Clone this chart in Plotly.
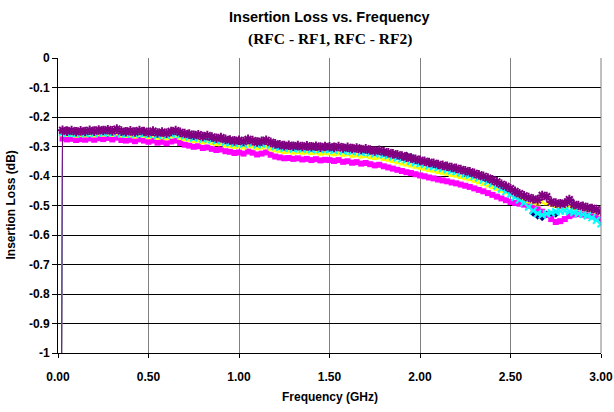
import plotly.graph_objects as go

# Frequency sweep (GHz): first sweep point then 0.025 GHz steps to 3.00
FREQ_FIRST = 0.01
FREQ = [FREQ_FIRST] + [round(0.025 * k, 3) for k in range(1, 121)]

# First sweep point lies far below the chart (off-scale)
FIRST_VAL = -2.5

PURPLE = [FIRST_VAL,
    -0.245, -0.248, -0.246, -0.250, -0.247, -0.249, -0.245, -0.248, -0.244, -0.246,
    -0.243, -0.247, -0.241, -0.248, -0.250, -0.247, -0.251, -0.246, -0.249, -0.252,
    -0.248, -0.254, -0.251, -0.255, -0.249, -0.246, -0.252, -0.256, -0.258, -0.262,
    -0.260, -0.266, -0.263, -0.268, -0.272, -0.270, -0.276, -0.278, -0.281, -0.279,
    -0.283, -0.276, -0.280, -0.285, -0.282, -0.279, -0.286, -0.291, -0.294, -0.297,
    -0.296, -0.299, -0.297, -0.300, -0.298, -0.301, -0.299, -0.302, -0.300, -0.301,
    -0.303, -0.300, -0.305, -0.303, -0.307, -0.305, -0.310, -0.308, -0.312, -0.315,
    -0.313, -0.318, -0.321, -0.325, -0.328, -0.332, -0.336, -0.339, -0.343, -0.347,
    -0.350, -0.354, -0.357, -0.361, -0.364, -0.367, -0.371, -0.374, -0.378, -0.382,
    -0.386, -0.391, -0.396, -0.401, -0.407, -0.413, -0.420, -0.428, -0.435, -0.443,
    -0.452, -0.460, -0.467, -0.473, -0.478, -0.481, -0.466, -0.470, -0.488, -0.492,
    -0.494, -0.492, -0.480, -0.497, -0.500, -0.503, -0.507, -0.510, -0.514, -0.520]

CYAN = [FIRST_VAL,
    -0.252, -0.255, -0.254, -0.257, -0.255, -0.256, -0.253, -0.256, -0.252, -0.254,
    -0.251, -0.255, -0.250, -0.256, -0.258, -0.255, -0.259, -0.254, -0.257, -0.260,
    -0.257, -0.262, -0.259, -0.263, -0.258, -0.255, -0.261, -0.264, -0.267, -0.271,
    -0.269, -0.275, -0.272, -0.277, -0.281, -0.279, -0.285, -0.287, -0.290, -0.288,
    -0.292, -0.286, -0.289, -0.294, -0.291, -0.289, -0.295, -0.300, -0.303, -0.306,
    -0.305, -0.308, -0.306, -0.309, -0.307, -0.310, -0.308, -0.311, -0.309, -0.310,
    -0.313, -0.310, -0.315, -0.313, -0.317, -0.315, -0.320, -0.318, -0.322, -0.325,
    -0.323, -0.328, -0.331, -0.335, -0.338, -0.342, -0.346, -0.350, -0.354, -0.358,
    -0.361, -0.365, -0.368, -0.372, -0.375, -0.378, -0.382, -0.385, -0.389, -0.393,
    -0.397, -0.402, -0.407, -0.413, -0.419, -0.426, -0.434, -0.443, -0.452, -0.462,
    -0.472, -0.481, -0.491, -0.505, -0.518, -0.527, -0.532, -0.528, -0.525, -0.521,
    -0.519, -0.518, -0.520, -0.524, -0.527, -0.530, -0.535, -0.541, -0.550, -0.562]

YELLOW = [FIRST_VAL,
    -0.261, -0.263, -0.262, -0.265, -0.263, -0.264, -0.261, -0.264, -0.260, -0.262,
    -0.259, -0.263, -0.258, -0.264, -0.266, -0.264, -0.268, -0.263, -0.266, -0.270,
    -0.266, -0.272, -0.270, -0.274, -0.268, -0.265, -0.272, -0.276, -0.279, -0.283,
    -0.281, -0.287, -0.285, -0.290, -0.294, -0.292, -0.298, -0.300, -0.303, -0.301,
    -0.305, -0.299, -0.302, -0.308, -0.305, -0.302, -0.309, -0.314, -0.317, -0.320,
    -0.319, -0.322, -0.320, -0.323, -0.321, -0.324, -0.322, -0.326, -0.324, -0.325,
    -0.328, -0.325, -0.330, -0.328, -0.333, -0.331, -0.336, -0.334, -0.338, -0.341,
    -0.339, -0.344, -0.347, -0.351, -0.355, -0.359, -0.363, -0.366, -0.370, -0.374,
    -0.377, -0.381, -0.384, -0.388, -0.391, -0.394, -0.398, -0.401, -0.405, -0.409,
    -0.413, -0.418, -0.423, -0.428, -0.434, -0.440, -0.446, -0.452, -0.458, -0.463,
    -0.469, -0.475, -0.481, -0.488, -0.492, -0.495, -0.490, -0.494, -0.499, -0.503,
    -0.506, -0.508, -0.505, -0.510, -0.512, -0.514, -0.517, -0.520, -0.524, -0.530]

MAGENTA = [FIRST_VAL,
    -0.273, -0.276, -0.274, -0.278, -0.275, -0.277, -0.273, -0.277, -0.272, -0.275,
    -0.271, -0.276, -0.270, -0.278, -0.280, -0.277, -0.282, -0.276, -0.280, -0.284,
    -0.280, -0.287, -0.284, -0.289, -0.283, -0.280, -0.288, -0.294, -0.297, -0.301,
    -0.299, -0.305, -0.303, -0.308, -0.312, -0.310, -0.316, -0.318, -0.322, -0.320,
    -0.324, -0.317, -0.321, -0.327, -0.324, -0.320, -0.328, -0.334, -0.337, -0.340,
    -0.339, -0.342, -0.340, -0.344, -0.342, -0.346, -0.343, -0.347, -0.345, -0.346,
    -0.349, -0.346, -0.352, -0.350, -0.355, -0.353, -0.358, -0.356, -0.360, -0.364,
    -0.362, -0.367, -0.371, -0.375, -0.379, -0.383, -0.387, -0.390, -0.394, -0.398,
    -0.401, -0.405, -0.408, -0.412, -0.415, -0.418, -0.422, -0.425, -0.429, -0.433,
    -0.437, -0.442, -0.447, -0.452, -0.458, -0.464, -0.470, -0.476, -0.482, -0.488,
    -0.491, -0.494, -0.497, -0.501, -0.506, -0.513, -0.521, -0.531, -0.546, -0.556,
    -0.553, -0.546, -0.536, -0.531, -0.529, -0.531, -0.534, -0.537, -0.541, -0.546]

NAVY = [FIRST_VAL,
    -0.247, -0.250, -0.248, -0.252, -0.249, -0.251, -0.247, -0.250, -0.246, -0.248,
    -0.245, -0.249, -0.243, -0.250, -0.252, -0.249, -0.253, -0.248, -0.251, -0.254,
    -0.250, -0.256, -0.253, -0.257, -0.251, -0.248, -0.254, -0.258, -0.260, -0.264,
    -0.262, -0.268, -0.265, -0.270, -0.274, -0.272, -0.278, -0.280, -0.283, -0.281,
    -0.285, -0.278, -0.282, -0.287, -0.284, -0.281, -0.288, -0.293, -0.296, -0.299,
    -0.298, -0.301, -0.299, -0.302, -0.300, -0.303, -0.301, -0.304, -0.302, -0.303,
    -0.305, -0.302, -0.307, -0.305, -0.309, -0.307, -0.312, -0.310, -0.314, -0.317,
    -0.315, -0.320, -0.323, -0.327, -0.330, -0.334, -0.330, -0.335, -0.345, -0.349,
    -0.352, -0.356, -0.359, -0.363, -0.366, -0.369, -0.373, -0.376, -0.380, -0.384,
    -0.388, -0.393, -0.398, -0.403, -0.409, -0.415, -0.422, -0.430, -0.437, -0.445,
    -0.454, -0.462, -0.469, -0.476, -0.525, -0.535, -0.540, -0.530, -0.533, -0.528,
    -0.497, -0.494, -0.482, -0.499, -0.502, -0.505, -0.509, -0.512, -0.516, -0.522]

SERIES = [
    ("RFC-RF1 a", NAVY, "#000080", "diamond", 6),
    ("RFC-RF1 b", MAGENTA, "#FF00FF", "square", 6),
    ("RFC-RF1 c", YELLOW, "#FFFF00", "triangle-up", 6),
    ("RFC-RF2 a", CYAN, "#00FFFF", "x-thin-open", 7),
    ("RFC-RF2 b", PURPLE, "#800080", "asterisk-open", 8),
]

Y_TICKS = [0, -0.1, -0.2, -0.3, -0.4, -0.5, -0.6, -0.7, -0.8, -0.9, -1]
Y_TICK_TEXT = ["0", "-0.1", "-0.2", "-0.3", "-0.4", "-0.5", "-0.6", "-0.7", "-0.8", "-0.9", "-1"]
X_TICKS = [0, 0.5, 1.0, 1.5, 2.0, 2.5, 3.0]
X_TICK_TEXT = ["0.00", "0.50", "1.00", "1.50", "2.00", "2.50", "3.00"]

fig = go.Figure()
for name, vals, color, sym, size in SERIES:
    open_sym = sym.endswith("open")
    fig.add_trace(go.Scatter(
        x=FREQ, y=vals, name=name, mode="lines+markers",
        line=dict(color=color, width=1),
        marker=dict(symbol=sym, size=size, color=color,
                    line=dict(color=color, width=2 if open_sym else 0)),
        showlegend=False, hoverinfo="skip",
    ))

font_bold = "Liberation Sans, Arial, sans-serif"
fig.update_layout(
    width=614, height=412,
    margin=dict(l=58, r=13, t=58, b=59, autoexpand=False),
    paper_bgcolor="white", plot_bgcolor="white",
    font=dict(family=font_bold, size=12, color="black"),
    xaxis=dict(range=[0, 3], tickvals=X_TICKS, ticktext=X_TICK_TEXT,
               showgrid=True, gridcolor="#808080", gridwidth=1,
               showline=True, linecolor="black", linewidth=1, mirror=False,
               ticks="outside", ticklen=4, tickcolor="black",
               ticklabelstandoff=9,
               tickfont=dict(family=font_bold, size=12, weight="bold"),
               zeroline=False, fixedrange=True, automargin=False),
    yaxis=dict(range=[-1, 0], tickvals=Y_TICKS, ticktext=Y_TICK_TEXT,
               showgrid=True, gridcolor="black", gridwidth=1,
               showline=True, linecolor="black", linewidth=1,
               ticks="outside", ticklen=5, tickcolor="black",
               tickfont=dict(family=font_bold, size=12, weight="bold"),
               zeroline=False, fixedrange=True, automargin=False),
    shapes=[dict(type="line", xref="paper", yref="paper", x0=1, x1=1, y0=0, y1=1,
                 line=dict(color="#808080", width=1))],
    annotations=[
        dict(text="<b>Insertion Loss vs. Frequency</b>", xref="paper", yref="paper",
             x=0.5, y=1, xanchor="center", yanchor="bottom", yshift=31, showarrow=False,
             font=dict(family=font_bold, size=14.5, color="black")),
        dict(text="<b>(RFC - RF1, RFC - RF2)</b>", xref="paper", yref="paper",
             x=0.5, y=1, xanchor="center", yanchor="bottom", yshift=8, showarrow=False,
             font=dict(family="Liberation Serif, Times New Roman, serif", size=15.5, color="black")),
        dict(text="<b>Frequency (GHz)</b>", xref="paper", yref="paper",
             x=0.5, y=0, xanchor="center", yanchor="top", yshift=-35, showarrow=False,
             font=dict(family=font_bold, size=12, color="black")),
        dict(text="<b>Insertion Loss (dB)</b>", xref="paper", yref="paper",
             x=0, y=0.5, xanchor="center", yanchor="middle", xshift=-48, textangle=-90,
             showarrow=False, font=dict(family=font_bold, size=12, color="black")),
    ],
)

# Remove the default page margin so the figure sits at the window's top-left corner.
fig.write_html("out.html", config={"displayModeBar": False},
               post_script="document.body.style.margin='0';")
